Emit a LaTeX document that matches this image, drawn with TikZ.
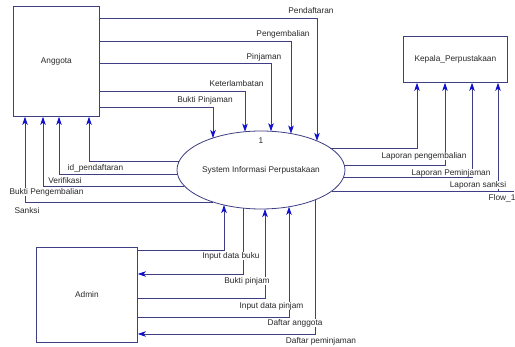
\documentclass[tikz,border=0pt]{standalone}
\usepackage{fontspec}
\setmainfont{Liberation Sans}
\usetikzlibrary{arrows.meta,shapes.geometric}
\definecolor{ln}{RGB}{62,62,130}
\definecolor{ah}{RGB}{18,18,205}
\definecolor{tx}{RGB}{40,40,40}
\begin{document}
\begin{tikzpicture}[x=1pt,y=-1pt,
  line/.style={draw=ln, line width=0.8pt},
  flow/.style={line, -{Stealth[length=8pt,width=5.5pt,inset=2pt,color=ah]}},
  ent/.style={draw=ln, line width=0.8pt, fill=white, anchor=north west, inner sep=0pt,
    font=\fontsize{8.3}{10}\selectfont, text=tx},
  lbl/.style={fill=white, inner sep=0.6pt, font=\fontsize{8.3}{10}\selectfont, text=tx},
]
\useasboundingbox[fill=white] (0,0) rectangle (515,347);

% entities
\node[ent, minimum width=86pt, minimum height=110pt] (ang) at (13,6) {Anggota};
\node[ent, minimum width=104pt, minimum height=46pt] (kep) at (403,36) {Kepala\_Perpustakaan};
\node[ent, minimum width=101pt, minimum height=95pt] (adm) at (36,247) {Admin};

% process
\node[ellipse, draw=ln, line width=0.8pt, minimum width=168pt, minimum height=78pt,
  inner sep=0pt, outer sep=0pt, font=\fontsize{8.3}{10}\selectfont, text=tx]
  (proc) at (261,170) {System Informasi Perpustakaan};
\node[lbl, fill=none] (pnum) at (261,141) {1};

% border points of the process
\coordinate (t1) at (317,140.9);
\coordinate (t2) at (291,133.6);
\coordinate (t3) at (271,131.3);
\coordinate (t4) at (245,131.7);
\coordinate (t5) at (213,138.0);
\coordinate (l1) at (179.3,161);
\coordinate (l2) at (177.4,174);
\coordinate (l3) at (184.4,186);
\coordinate (l4) at (213.0,202);
\coordinate (r1) at (330.4,148);
\coordinate (r2) at (344.3,165);
\coordinate (r3) at (343.6,177);
\coordinate (r4) at (331.8,191);
\coordinate (b1) at (224,205.0);
\coordinate (b2) at (243,208.1);
\coordinate (b3) at (265,209.0);
\coordinate (b4) at (289,206.8);
\coordinate (b5) at (315,199.9);
\coordinate (fend) at (514,191);

% Anggota -> process
\draw[flow] (ang.east |- 0,18) -| (t1);
\draw[flow] (ang.east |- 0,41) -| (t2);
\draw[flow] (ang.east |- 0,63) -| (t3);
\draw[flow] (ang.east |- 0,91) -| (t4);
\draw[flow] (ang.east |- 0,107) -| (t5);

% process -> Anggota
\draw[flow] (l1) -| (ang.south -| 89,0);
\draw[flow] (l2) -| (ang.south -| 59,0);
\draw[flow] (l3) -| (ang.south -| 43,0);
\draw[flow] (l4) -| (ang.south -| 25,0);

% process -> Kepala
\draw[flow] (r1) -| (kep.south -| 417,0);
\draw[flow] (r2) -| (kep.south -| 445,0);
\draw[flow] (r3) -| (kep.south -| 472,0);
\draw[flow] (r4) -| (kep.south -| 498,0);
\draw[line] (r4) -- (fend);

% Admin <-> process
\draw[flow] (adm.east |- 0,250) -| (b1);
\draw[flow] (b2) |- (adm.east |- 0,274);
\draw[flow] (adm.east |- 0,298) -| (b3);
\draw[flow] (adm.east |- 0,317) -| (b4);
\draw[flow] (b5) |- (adm.east |- 0,334);

% labels
\node[lbl] at (311,11) {Pendaftaran};
\node[lbl] at (283,34) {Pengembalian};
\node[lbl] at (264,57) {Pinjaman};
\node[lbl] at (236.5,84) {Keterlambatan};
\node[lbl] at (205,100) {Bukti Pinjaman};
\node[lbl] at (95.5,168) {id\_pendaftaran};
\node[lbl] at (65,181) {Verifikasi};
\node[lbl] at (46.5,192) {Bukti Pengembalian};
\node[lbl] at (27,211) {Sanksi};
\node[lbl] at (424,156) {Laporan pengembalian};
\node[lbl] at (451,173) {Laporan Peminjaman};
\node[lbl] at (478,185) {Laporan sanksi};
\node[lbl] at (502,198) {Flow\_1};
\node[lbl] at (231,256) {Input data buku};
\node[lbl] at (247,281) {Bukti pinjam};
\node[lbl] at (271.5,306) {Input data pinjam};
\node[lbl] at (295,323) {Daftar anggota};
\node[lbl] at (321,341) {Daftar peminjaman};
\end{tikzpicture}
\end{document}
